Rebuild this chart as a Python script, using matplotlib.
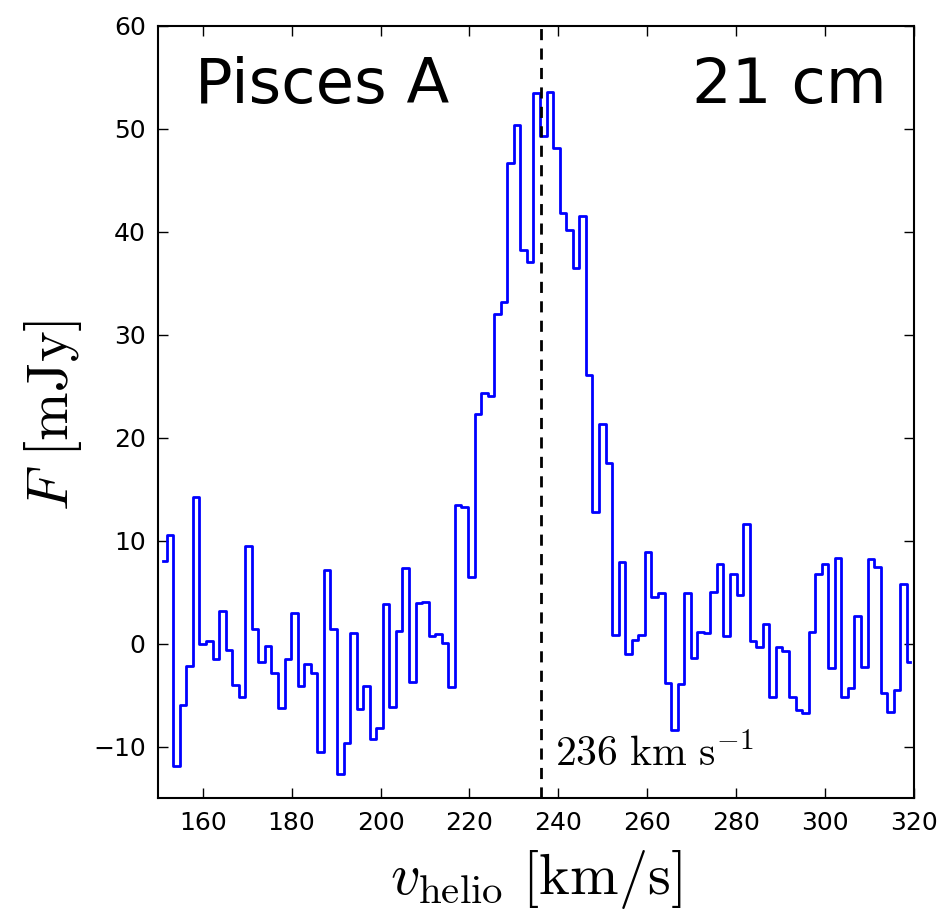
import numpy as np
import matplotlib
matplotlib.use("Agg")
import matplotlib.pyplot as plt

# ============== Spectrum ==============
V_START = 151.17      # centre of first channel [km/s]
CHAN_WIDTH = 1.473    # channel width [km/s]
V_SYS = 236           # systemic velocity [km/s]

flux = [
    8.0, 10.55, -11.9, -5.95, -2.17, 14.2, -0.06, 0.26, -1.52, 3.17,
    -0.65, -4.0, -5.15, 9.5, 1.39, -1.75, -0.19, -2.88, -6.2, -1.49,
    2.98, -4.08, -2.0, -2.82, -10.5, 7.2, 1.46, -12.6, -9.68, 1.0,
    -6.38, -4.1, -9.29, -8.16, 3.85, -6.1, 1.23, 7.38, -3.72, 3.92,
    4.05, 0.74, 0.94, 0.1, -4.17, 13.5, 13.3, 6.44, 22.3, 24.3,
    24.06, 32.0, 33.2, 46.7, 50.4, 38.2, 37.1, 53.5, 49.3, 53.6,
    48.1, 41.8, 40.2, 36.5, 41.5, 26.1, 12.8, 21.3, 17.55, 0.84,
    7.96, -1.0, 0.36, 0.84, 8.93, 4.5, 4.95, -3.78, -8.38, -3.9,
    4.95, -1.36, 1.17, 1.07, 5.05, 7.7, 0.74, 6.73, 4.73, 11.6,
    0.26, -0.35, 1.91, -5.14, -0.35, -0.68, -5.14, -6.44, -6.7, 1.1,
    6.77, 7.74, -2.39, 8.29, -5.14, -4.33, 2.69, -2.3, 8.22, 7.48,
    -4.76, -6.67, -4.5, 5.79, -1.75,
]  # mJy

velocity = V_START + CHAN_WIDTH * np.arange(len(flux))

x_ticks = [160, 180, 200, 220, 240, 260, 280, 300, 320]
y_ticks = [-10, 0, 10, 20, 30, 40, 50, 60]
# ======================================

plt.rcParams['mathtext.fontset'] = 'cm'
plt.rcParams['font.family'] = 'DejaVu Sans'

fig = plt.figure(figsize=(9.44, 9.13), dpi=100)
ax = fig.add_axes([0.1676, 0.1257, 0.8008, 0.8462])

ax.step(velocity, flux, where='mid', color='blue', lw=2)
ax.axvline(V_SYS, color='black', lw=2, linestyle=(0, (4, 3)))

ax.set_xlim(150, 320)
ax.set_ylim(-15, 60)
ax.set_xticks(x_ticks)
ax.set_yticks(y_ticks)

ax.tick_params(direction='in', top=True, right=True, length=7, width=1,
               labelsize=18, pad=9)
for s in ax.spines.values():
    s.set_linewidth(1.5)

ax.set_xlabel(r'$v_{\rm helio}\ [{\rm km/s}]$', fontsize=42)
ax.set_ylabel(r'$F\ [{\rm mJy}]$', fontsize=42)
ax.xaxis.set_label_coords(0.5, -0.064)
ax.yaxis.set_label_coords(-0.098, 0.495)

ax.text(0.0487, 0.9003, 'Pisces A', transform=ax.transAxes, fontsize=45,
        ha='left', va='baseline')
ax.text(0.964, 0.9003, '21 cm', transform=ax.transAxes, fontsize=45,
        ha='right', va='baseline')
ax.text(239.3, -11.85, r'$236\ {\rm km\ s^{-1}}$', fontsize=30,
        ha='left', va='baseline')

fig.savefig('out.png', dpi=100)
